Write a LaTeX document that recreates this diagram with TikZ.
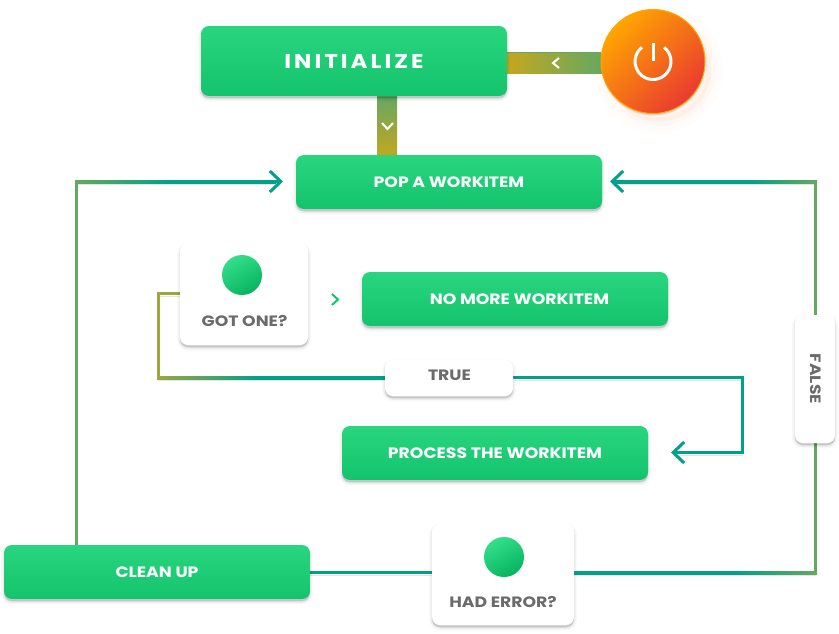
\documentclass[tikz,border=0pt]{standalone}
\usepackage{fontspec}
\usetikzlibrary{arrows.meta, backgrounds, shadows}
\setmainfont{Poppins}
\newfontfamily\widefont[FakeStretch=1.15]{Poppins}
\definecolor{boxtop}{HTML}{29D67F}
\definecolor{boxbottom}{HTML}{14C36D}
\definecolor{dottop}{HTML}{34DF8C}
\definecolor{dotbottom}{HTML}{08B35F}
\definecolor{linkteal}{HTML}{00A08A}
\definecolor{linkgreen}{HTML}{65A862}
\definecolor{linkolive}{HTML}{9EA63C}
\definecolor{stripgold}{HTML}{C4A71E}
\definecolor{labelgray}{HTML}{6B6B6B}
\definecolor{powertop}{HTML}{FFA600}
\definecolor{powerbottom}{HTML}{EA3A30}
\definecolor{powerglow}{HTML}{F08A50}
\pgfdeclarehorizontalshading{runleft}{100bp}{color(0bp)=(linkgreen); color(25bp)=(linkgreen); color(49bp)=(linkteal); color(100bp)=(linkteal)}
\pgfdeclarehorizontalshading{runright}{100bp}{color(0bp)=(linkteal); color(58bp)=(linkteal); color(75bp)=(linkgreen); color(100bp)=(linkgreen)}
\pgfdeclarehorizontalshading{runolive}{100bp}{color(0bp)=(linkolive); color(25bp)=(linkolive); color(47bp)=(linkteal); color(100bp)=(linkteal)}
\tikzset{
    softshadow/.style={
        general shadow={shadow yshift=-2.5pt, fill=black, draw=black, line width=6pt, opacity=.025},
        general shadow={shadow yshift=-2.5pt, fill=black, draw=black, line width=3pt, opacity=.05},
        general shadow={shadow yshift=-2pt, fill=black, opacity=.1}},
    workbox/.style={rectangle, rounded corners=8pt, minimum width=306pt, minimum height=54pt,
        top color=boxtop, bottom color=boxbottom, text=white, font=\widefont\bfseries\fontsize{15}{17}\selectfont,
        inner sep=0pt, softshadow},
    askbox/.style={rectangle, rounded corners=8pt, fill=white, inner sep=0pt, softshadow},
    asktext/.style={text=labelgray, font=\widefont\bfseries\fontsize{15}{17}\selectfont, inner sep=0pt},
    dot/.style={circle, minimum size=40pt, inner sep=0pt,
        top color=dottop, bottom color=dotbottom, shading angle=30},
    link/.style={draw=linkteal, line width=3pt,
        preaction={draw=black, opacity=.1, transform canvas={yshift=-2.5pt}}},
    linkarrow/.style={link, -{Straight Barb[length=11pt, width=21pt]}},
    chevron/.style={line width=2pt},
    strip/.style={draw=linkgreen, line width=20pt,
        preaction={draw=black, opacity=.12, transform canvas={yshift=-2pt}}}
}

\begin{document}
\begin{tikzpicture}[x=1pt, y=-1pt]
    \useasboundingbox (0, 0) rectangle (839, 633);

    % main steps
    \node (init) [workbox, minimum height=70pt, font=\widefont\bfseries\fontsize{20}{22}\selectfont\addfontfeature{LetterSpace=15}] at (354, 61) {INITIALIZE};
    \node (pop) [workbox] at (449, 182) {POP A WORKITEM};
    \node (nomore) [workbox] at (515, 299) {\hspace*{9pt}NO MORE WORKITEM};
    \node (process) [workbox] at (495, 453) {PROCESS THE WORKITEM};
    \node (clean) [workbox] at (157, 572) {CLEAN UP};

    % power button
    \node (power) [circle, minimum size=104pt, inner sep=0pt, draw=powertop, line width=1pt,
        top color=powertop, bottom color=powerbottom, shading angle=45,
        general shadow={shadow xshift=6pt, shadow yshift=-8pt, fill=powerglow, draw=powerglow, line width=24pt, opacity=.015},
        general shadow={shadow xshift=6pt, shadow yshift=-8pt, fill=powerglow, draw=powerglow, line width=16pt, opacity=.02},
        general shadow={shadow xshift=6pt, shadow yshift=-8pt, fill=powerglow, draw=powerglow, line width=8pt, opacity=.03},
        general shadow={shadow yshift=-2pt, fill=black, opacity=.12}] at (653, 61.5) {};
    \draw [white, line width=3pt] ([shift={(52:18pt)}]power.center) arc [start angle=52, end angle=-232, radius=18pt];
    \draw [white, line width=3pt] (653, 43) -- (653, 61);

    % questions
    \node (got) [askbox, minimum width=128pt, minimum height=101pt] at (244, 294.5) {};
    \node (gotdot) [dot] at (242, 275) {};
    \node (gottext) [asktext] at (244.5, 321) {GOT ONE?};
    \node (had) [askbox, minimum width=142pt, minimum height=101pt] at (503, 574.5) {};
    \node (haddot) [dot] at (504, 557) {};
    \node (hadtext) [asktext] at (503, 601.5) {HAD ERROR?};
    \node (truebox) [askbox, minimum width=128pt, minimum height=36pt] at (449, 378) {};
    \node (truetext) [asktext] at (449.5, 375.5) {TRUE};
    \node (falsebox) [askbox, minimum width=40pt, minimum height=128pt] at (815, 379) {};
    \node (falsetext) [asktext, rotate=-90] at (815.5, 379) {FALSE};

    % free ends of the links
    \coordinate (cornerleft) at (76.5, 181.5);
    \coordinate (cornerright) at (815.5, 181.5);
    \coordinate (cornergot) at (158.5, 377.5);
    \coordinate (cornerproc) at (742.5, 377.5);
    \coordinate (poptipleft) at (283, 181.5);
    \coordinate (poptipright) at (610, 181.5);
    \coordinate (proctip) at (671, 452.5);
    \coordinate (bottomrun) at (0, 572.5);
    \coordinate (gotrun) at (0, 293.5);

    \begin{scope}[on background layer]
        \draw [strip] (power) -- (init.east |- power);
        \draw [strip] (387, 96) -- (387, 156);
        \shade [left color=stripgold, right color=linkgreen] (507, 53) rectangle (602, 73);
        \shade [top color=linkgreen, bottom color=stripgold] (377, 96) rectangle (397, 156);

        \draw [linkarrow] (cornerleft |- clean.north) -- (cornerleft) -- (poptipleft);
        \draw [linkarrow] (had.east |- bottomrun) -- (cornerright |- bottomrun) -- (cornerright) -- (poptipright);
        \draw [link] (clean.east |- bottomrun) -- (had.west |- bottomrun);
        \draw [link] (got.west |- gotrun) -- (cornergot |- gotrun) -- (cornergot) -- (truebox.west |- cornergot);
        \draw [linkarrow] (truebox.east |- cornerproc) -- (cornerproc) -- (cornerproc |- proctip) -- (proctip);

        % colour runs along the links
        \fill [linkgreen] (75, 180) rectangle (78, 545);
        \shade [shading=runleft] (75, 180) rectangle (276, 183);
        \fill [linkgreen] (814, 180) rectangle (817, 574);
        \shade [shading=runright] (616, 180) rectangle (817, 183);
        \shade [shading=runright] (574, 571) rectangle (817, 574);
        \fill [linkolive] (157, 292) rectangle (160, 379);
        \fill [linkolive] (157, 292) rectangle (180, 295);
        \shade [shading=runolive] (157, 376) rectangle (385, 379);
    \end{scope}

    % chevrons
    \draw [chevron, white] (559, 58) -- (553, 63) -- (559, 68);
    \draw [chevron, white] (382, 123) -- (387.5, 129) -- (393, 123);
    \draw [chevron, boxbottom] (332, 294) -- (338, 299.5) -- (332, 305);
\end{tikzpicture}
\end{document}
